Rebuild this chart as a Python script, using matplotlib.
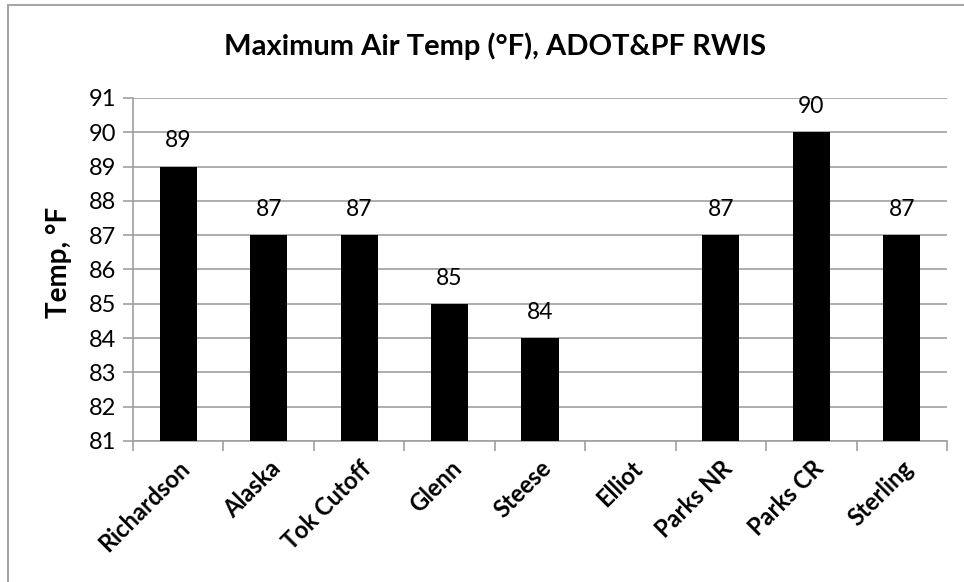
import numpy as np
import matplotlib
matplotlib.use("Agg")
import matplotlib.pyplot as plt
from matplotlib.patches import Rectangle

categories = ["Richardson", "Alaska", "Tok Cutoff", "Glenn", "Steese", "Elliot",
              "Parks NR", "Parks CR", "Sterling"]
values = [89, 87, 87, 85, 84, np.nan, 87, 90, 87]
yticks = list(range(81, 92))

plt.rcParams['font.family'] = ['Lato', 'DejaVu Sans']

fig = plt.figure(figsize=(9.64, 5.82), dpi=100)
fig.patches.append(Rectangle((8/964, -0.1), 1.2, 1 - 5/582 + 0.1, transform=fig.transFigure,
                             fill=False, edgecolor='#a6a6a6', linewidth=1.5))
ax = fig.add_axes([133/964, 1 - 441/582, (947 - 133)/964, (441 - 98)/582])

x = np.arange(len(categories))
base = 81
heights = [v - base if not np.isnan(v) else 0 for v in values]
ax.bar(x, heights, bottom=base, width=0.41, color='black', zorder=3)
for xi, v in zip(x, values):
    if not np.isnan(v):
        ax.annotate(f"{v:.0f}", (xi, v), xytext=(0, 11), textcoords='offset points',
                    ha='center', va='bottom', fontsize=16.5)

ax.set_ylim(81, 91)
ax.set_xlim(-0.5, len(categories) - 0.5)
ax.set_yticks(yticks)
ax.set_yticklabels([str(t) for t in yticks], fontsize=17)
ax.yaxis.grid(True, color='#a0a0a0', linewidth=1.2, zorder=0)
ax.set_axisbelow(True)

ax.set_xticks(np.arange(len(categories) + 1) - 0.5)
ax.set_xticklabels([])
ax.set_xticks(x, minor=True)
ax.set_xticklabels(categories, minor=True, rotation=45, ha='right',
                   rotation_mode='anchor', fontsize=17, fontweight='bold')
ax.tick_params(axis='x', which='minor', length=0, pad=11)
ax.tick_params(axis='x', which='major', length=7, color='#a0a0a0', width=1.2)
ax.tick_params(axis='y', length=7, color='#a0a0a0', width=1.2, pad=5)

for s in ['top', 'right']:
    ax.spines[s].set_visible(False)
for s in ['left', 'bottom']:
    ax.spines[s].set_color('#a0a0a0')
    ax.spines[s].set_linewidth(1.2)

ax.set_ylabel("Temp, °F", fontsize=20, fontweight='bold')
ax.yaxis.set_label_coords((59 - 133) / 814, (441 - 262) / 343)
ax.yaxis.label.set_va('center')
fig.text(495/964, 1 - 46/582, "Maximum Air Temp (°F), ADOT&PF RWIS", ha='center', va='center',
         fontsize=21, fontweight='bold')

fig.savefig("out.png", dpi=100)
